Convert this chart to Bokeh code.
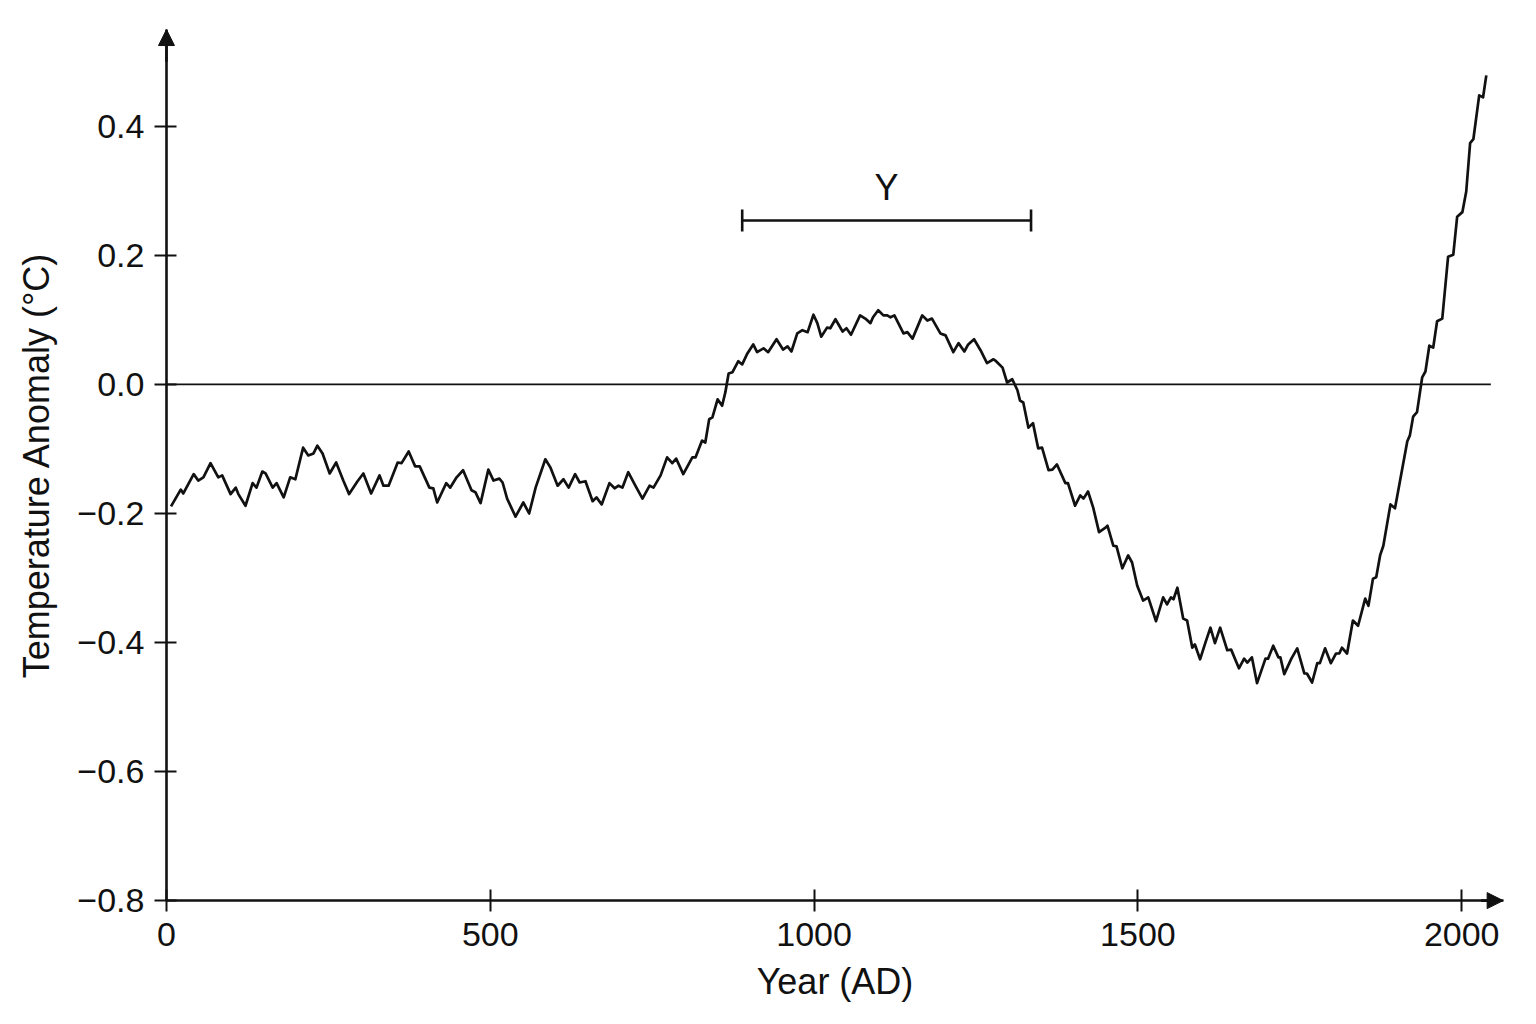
from bokeh.plotting import figure
from bokeh.models import Range1d, FixedTicker, CustomJSTickFormatter, Arrow, NormalHead, TeeHead
from bokeh.core.properties import value
from bokeh.embed import file_html
from bokeh.resources import INLINE

# reconstruction (year AD, anomaly in degC)
years = [7, 22, 26, 42, 49, 57, 68, 80, 86, 99, 107, 111, 122, 133, 139, 148, 153, 164, 170, 181,
         191, 199, 211, 219, 227, 233, 241, 252, 262, 273, 282, 295, 304, 316, 329, 335, 343, 357, 363, 374,
         384, 391, 406, 412, 418, 432, 438, 448, 458, 471, 477, 485, 497, 505, 514, 519, 526, 539, 551, 560,
         570, 585, 593, 604, 613, 621, 631, 638, 647, 658, 664, 672, 684, 692, 698, 704, 713, 724, 735, 746,
         752, 763, 773, 781, 787, 798, 812, 817, 827, 832, 838, 843, 851, 858, 863, 868, 874, 883, 889, 897,
         906, 912, 922, 929, 942, 952, 959, 965, 974, 982, 990, 999, 1005, 1011, 1020, 1025, 1033, 1044, 1050, 1057,
         1071, 1079, 1087, 1091, 1099, 1107, 1113, 1118, 1124, 1138, 1144, 1152, 1167, 1175, 1182, 1195, 1203, 1215, 1223, 1232,
         1238, 1247, 1257, 1267, 1277, 1281, 1291, 1298, 1306, 1314, 1318, 1323, 1331, 1338, 1346, 1352, 1362, 1368, 1375, 1388,
         1392, 1403, 1411, 1416, 1423, 1431, 1440, 1450, 1453, 1462, 1467, 1476, 1485, 1491, 1499, 1508, 1516, 1528, 1539, 1545,
         1551, 1555, 1561, 1570, 1576, 1584, 1588, 1596, 1604, 1612, 1619, 1627, 1638, 1644, 1656, 1664, 1669, 1676, 1684, 1697,
         1701, 1709, 1717, 1720, 1726, 1737, 1746, 1757, 1761, 1769, 1777, 1781, 1789, 1798, 1806, 1811, 1815, 1823, 1832, 1840,
         1851, 1856, 1863, 1868, 1874, 1879, 1890, 1897, 1916, 1920, 1925, 1931, 1939, 1944, 1950, 1956, 1962, 1970, 1979, 1987,
         1993, 2001, 2007, 2013, 2018, 2027, 2033, 2038]
anomaly = [-0.189, -0.163, -0.169, -0.139, -0.149, -0.144, -0.122, -0.144, -0.141, -0.170, -0.160, -0.170, -0.188, -0.153, -0.160, -0.135, -0.138, -0.160, -0.153, -0.175,
           -0.144, -0.147, -0.098, -0.110, -0.107, -0.095, -0.107, -0.138, -0.121, -0.149, -0.170, -0.150, -0.138, -0.169, -0.141, -0.157, -0.157, -0.121, -0.122, -0.104,
           -0.127, -0.127, -0.160, -0.161, -0.183, -0.153, -0.160, -0.144, -0.133, -0.164, -0.167, -0.184, -0.132, -0.149, -0.146, -0.152, -0.177, -0.205, -0.183, -0.200,
           -0.160, -0.116, -0.129, -0.157, -0.147, -0.160, -0.139, -0.152, -0.150, -0.181, -0.175, -0.186, -0.153, -0.161, -0.157, -0.160, -0.136, -0.157, -0.177, -0.157,
           -0.160, -0.141, -0.113, -0.122, -0.115, -0.139, -0.113, -0.113, -0.087, -0.090, -0.054, -0.051, -0.023, -0.033, -0.012, 0.017, 0.019, 0.036, 0.031, 0.048,
           0.062, 0.050, 0.056, 0.050, 0.070, 0.054, 0.059, 0.051, 0.079, 0.084, 0.081, 0.108, 0.095, 0.074, 0.088, 0.087, 0.101, 0.082, 0.087, 0.077,
           0.107, 0.102, 0.095, 0.104, 0.115, 0.107, 0.107, 0.104, 0.107, 0.079, 0.081, 0.071, 0.107, 0.099, 0.102, 0.079, 0.076, 0.050, 0.064, 0.051,
           0.062, 0.070, 0.053, 0.033, 0.039, 0.036, 0.026, 0.003, 0.008, -0.009, -0.025, -0.028, -0.067, -0.060, -0.099, -0.098, -0.133, -0.132, -0.124, -0.153,
           -0.153, -0.188, -0.172, -0.177, -0.166, -0.191, -0.229, -0.222, -0.219, -0.250, -0.251, -0.285, -0.265, -0.276, -0.312, -0.335, -0.330, -0.367, -0.330, -0.341,
           -0.330, -0.333, -0.315, -0.363, -0.366, -0.408, -0.403, -0.426, -0.401, -0.377, -0.401, -0.377, -0.412, -0.411, -0.440, -0.425, -0.431, -0.423, -0.463, -0.425,
           -0.425, -0.405, -0.423, -0.423, -0.449, -0.425, -0.409, -0.448, -0.448, -0.462, -0.432, -0.432, -0.409, -0.432, -0.417, -0.417, -0.408, -0.417, -0.366, -0.374,
           -0.332, -0.343, -0.301, -0.299, -0.265, -0.250, -0.186, -0.192, -0.088, -0.079, -0.050, -0.043, 0.011, 0.020, 0.060, 0.057, 0.098, 0.102, 0.198, 0.201,
           0.260, 0.267, 0.299, 0.374, 0.380, 0.448, 0.445, 0.479]

x_ticks = [0, 500, 1000, 1500, 2000]
y_ticks = [-0.8, -0.6, -0.4, -0.2, 0.0, 0.2, 0.4]
x_axis_span = (0, 2064)      # where the x axis line runs
y_axis_span = (-0.8, 0.55)   # where the y axis line runs

baseline_years = [0, 2045]
baseline_level = [0.0, 0.0]

period = [889, 1335]       # the bracketed interval
period_level = 0.254
period_label = "Y"
label_level = 0.305

INK = "#111111"
FONT = "Liberation Sans"

# the frame fills the whole canvas; axes are pinned at (0, -0.8) so nothing gets clipped
p = figure(width=1536, height=1024,
           x_range=Range1d(-256.3, 2115.5), y_range=Range1d(-0.992, 0.595),
           output_backend="svg", toolbar_location=None,
           min_border=0)
p.outline_line_color = None
p.grid.visible = False
p.background_fill_color = "white"
p.border_fill_color = "white"

# zero reference line
p.line(baseline_years, baseline_level, line_color=INK, line_width=1.7)

# the reconstruction itself
p.line(years, anomaly, line_color=INK, line_width=2.7, line_join="round")

# bracket with its label
p.add_layout(Arrow(x_start=period[0], x_end=period[1], y_start=period_level, y_end=period_level,
                   line_color=INK, line_width=2.6,
                   start=TeeHead(size=22, line_color=INK, line_width=2.6),
                   end=TeeHead(size=22, line_color=INK, line_width=2.6)))
p.text(x=[(period[0] + period[1]) / 2], y=[label_level], text=[period_label],
       text_font=value(FONT), text_font_size="36px", text_color=INK,
       text_align="center", text_baseline="middle")

# axes crossing at (0, -0.8)
p.xaxis.fixed_location = y_axis_span[0]
p.yaxis.fixed_location = x_axis_span[0]
p.xaxis.bounds = x_axis_span
p.yaxis.bounds = y_axis_span
p.xaxis.ticker = FixedTicker(ticks=x_ticks)
p.yaxis.ticker = FixedTicker(ticks=y_ticks)
p.yaxis.formatter = CustomJSTickFormatter(code="return tick.toFixed(1).replace('-', '\u2212')")
p.xaxis.axis_label = "Year (AD)"
p.yaxis.axis_label = "Temperature Anomaly (°C)"

for ax in (p.xaxis[0], p.yaxis[0]):
    ax.axis_line_color = INK
    ax.axis_line_width = 2.6
    ax.major_tick_line_color = INK
    ax.major_tick_line_width = 2
    ax.minor_tick_line_color = None
    ax.major_label_text_font = FONT
    ax.major_label_text_font_size = "34px"
    ax.major_label_text_color = INK
    ax.axis_label_text_font = FONT
    ax.axis_label_text_font_size = "36px"
    ax.axis_label_text_font_style = "normal"
    ax.axis_label_text_color = INK

p.xaxis.major_tick_in = 11
p.xaxis.major_tick_out = 11
p.xaxis.major_label_standoff = 11
p.xaxis.axis_label_standoff = 12
p.yaxis.major_tick_in = 10
p.yaxis.major_tick_out = 12
p.yaxis.major_label_standoff = 10
p.yaxis.axis_label_standoff = 17

# arrow heads on the axis ends
p.add_layout(Arrow(x_start=x_axis_span[0], x_end=x_axis_span[0], y_start=0.5, y_end=y_axis_span[1],
                   line_color=INK, line_width=2.6,
                   end=NormalHead(size=16, fill_color=INK, line_color=INK, line_width=1)))
p.add_layout(Arrow(x_start=2030, x_end=x_axis_span[1], y_start=y_axis_span[0], y_end=y_axis_span[0],
                   line_color=INK, line_width=2.6,
                   end=NormalHead(size=16, fill_color=INK, line_color=INK, line_width=1)))

open("out.html", "w").write(file_html(p, INLINE))
